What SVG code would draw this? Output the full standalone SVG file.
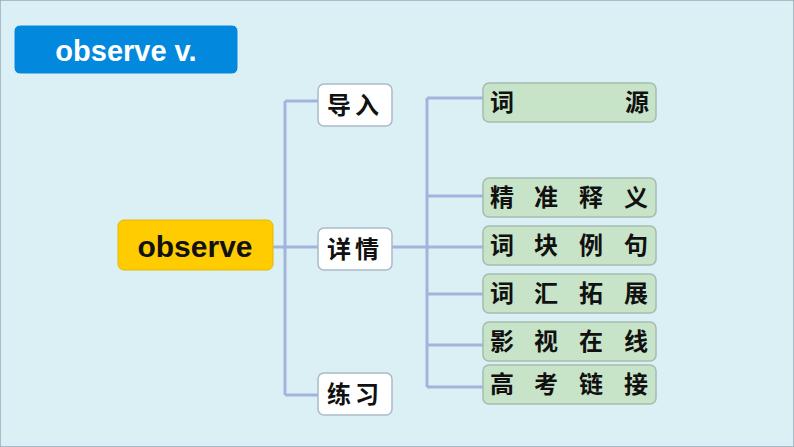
<svg xmlns="http://www.w3.org/2000/svg" width="794" height="447" viewBox="0 0 794 447">
<style>
.w{fill:#fff;stroke:#a9bac8;stroke-width:1.5}
.g{fill:#c8e4c8;stroke:#a4bcb0;stroke-width:1.5}
.t{font-family:"Noto Sans CJK SC","Liberation Sans",sans-serif;font-weight:bold;font-size:24px;fill:#111}
.c{fill:none;stroke:#a2b3dc;stroke-width:3}
</style>
<rect x="0" y="0" width="794" height="447" fill="#daf0f4" stroke="#9ab" stroke-width="1.5"/>
<g id="title"><rect x="14" y="25" width="224" height="49" rx="6" fill="#0288dd" stroke="#e0f0f8" stroke-width="1"/><text x="126" y="61" text-anchor="middle" font-family="Liberation Sans,sans-serif" font-weight="bold" font-size="29" fill="#fff">observe v.</text></g>
<g id="connectors">
<path class="c" d="M273 247H318M285 101V395M285 101H318M285 395H318"/>
<path class="c" d="M392 247H483M427 98V387M427 98H483M427 196H483M427 294H483M427 345H483M427 387H483"/>
</g>
<g id="root"><rect x="118" y="220" width="155" height="50" rx="6" fill="#fecc00" stroke="#e5b800"/><text x="195" y="257" text-anchor="middle" font-family="Liberation Sans,sans-serif" font-weight="bold" font-size="30" fill="#111">observe</text></g>
<g id="n1"><rect class="w" x="318" y="84" width="74" height="42" rx="6"/><text class="t" x="355" y="114" text-anchor="middle" letter-spacing="4">导入</text></g>
<g id="n2"><rect class="w" x="318" y="228" width="74" height="42" rx="6"/><text class="t" x="355" y="258" text-anchor="middle" letter-spacing="4">详情</text></g>
<g id="n3"><rect class="w" x="318" y="373" width="74" height="42" rx="6"/><text class="t" x="355" y="403" text-anchor="middle" letter-spacing="4">练习</text></g>
<g id="g1"><rect class="g" x="483" y="83" width="173" height="39" rx="6"/><text class="t" y="111" font-size="22"><tspan x="490">词</tspan><tspan x="625">源</tspan></text></g>
<g id="g2"><rect class="g" x="483" y="178" width="173" height="39" rx="6"/><text class="t" y="206" font-size="22"><tspan x="490">精</tspan><tspan x="534">准</tspan><tspan x="579">释</tspan><tspan x="624">义</tspan></text></g>
<g id="g3"><rect class="g" x="483" y="226" width="173" height="39" rx="6"/><text class="t" y="254" font-size="22"><tspan x="490">词</tspan><tspan x="534">块</tspan><tspan x="579">例</tspan><tspan x="624">句</tspan></text></g>
<g id="g4"><rect class="g" x="483" y="274" width="173" height="39" rx="6"/><text class="t" y="302" font-size="22"><tspan x="490">词</tspan><tspan x="534">汇</tspan><tspan x="579">拓</tspan><tspan x="624">展</tspan></text></g>
<g id="g5"><rect class="g" x="483" y="322" width="173" height="39" rx="6"/><text class="t" y="350" font-size="22"><tspan x="490">影</tspan><tspan x="534">视</tspan><tspan x="579">在</tspan><tspan x="624">线</tspan></text></g>
<g id="g6"><rect class="g" x="483" y="365" width="173" height="39" rx="6"/><text class="t" y="393" font-size="22"><tspan x="490">高</tspan><tspan x="534">考</tspan><tspan x="579">链</tspan><tspan x="624">接</tspan></text></g>
</svg>
